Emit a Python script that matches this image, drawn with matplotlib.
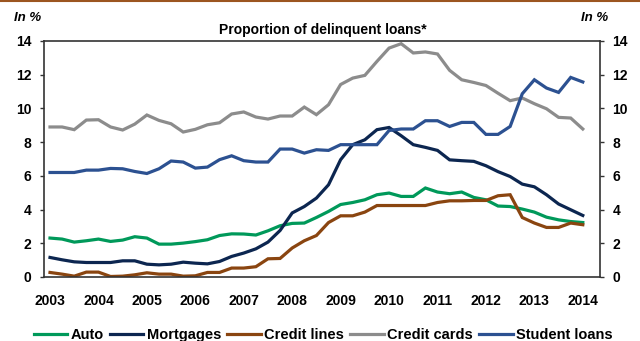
import numpy as np
import matplotlib
matplotlib.use("Agg")
from matplotlib import pyplot as plt
from matplotlib.lines import Line2D

plt.rcParams['font.family'] = ['Liberation Sans', 'DejaVu Sans']

# quarterly observations, 2003Q1 .. 2014Q1
quarters = 2003 + np.arange(45) / 4.0

auto = [2.31, 2.25, 2.07, 2.15, 2.25, 2.11, 2.19, 2.39, 2.31, 1.95,
        1.95, 2.01, 2.10, 2.21, 2.46, 2.56, 2.55, 2.49, 2.74, 3.04,
        3.18, 3.20, 3.53, 3.89, 4.30, 4.42, 4.58, 4.88, 4.98, 4.78,
        4.78, 5.28, 5.04, 4.94, 5.04, 4.72, 4.58, 4.21, 4.18, 4.03,
        3.85, 3.55, 3.39, 3.29, 3.23]
mortgages = [1.16, 1.02, 0.90, 0.86, 0.86, 0.86, 0.96, 0.96, 0.76, 0.72,
             0.76, 0.88, 0.82, 0.78, 0.92, 1.22, 1.42, 1.67, 2.07, 2.76,
             3.80, 4.18, 4.68, 5.47, 6.96, 7.85, 8.14, 8.74, 8.87, 8.38,
             7.85, 7.69, 7.51, 6.95, 6.90, 6.86, 6.60, 6.25, 5.96, 5.51,
             5.35, 4.88, 4.33, 3.99, 3.65]
credit_lines = [0.27, 0.17, 0.05, 0.29, 0.29, 0.03, 0.05, 0.13, 0.25, 0.17,
                0.17, 0.05, 0.07, 0.27, 0.27, 0.53, 0.53, 0.61, 1.08, 1.10,
                1.72, 2.15, 2.46, 3.23, 3.63, 3.63, 3.85, 4.24, 4.24, 4.24,
                4.24, 4.24, 4.42, 4.52, 4.52, 4.54, 4.54, 4.82, 4.88, 3.53,
                3.20, 2.94, 2.94, 3.20, 3.10]
credit_cards = [8.90, 8.90, 8.74, 9.31, 9.33, 8.90, 8.72, 9.07, 9.61, 9.29,
                9.09, 8.60, 8.76, 9.03, 9.15, 9.67, 9.79, 9.49, 9.37, 9.55,
                9.55, 10.08, 9.63, 10.22, 11.42, 11.80, 11.96, 12.79, 13.58, 13.84,
                13.29, 13.35, 13.23, 12.26, 11.70, 11.54, 11.36, 10.90, 10.46, 10.62,
                10.28, 9.98, 9.47, 9.43, 8.78]
student_loans = [6.20, 6.20, 6.20, 6.34, 6.34, 6.44, 6.42, 6.26, 6.14, 6.42,
                 6.88, 6.82, 6.46, 6.52, 6.96, 7.19, 6.90, 6.82, 6.82, 7.59,
                 7.59, 7.35, 7.55, 7.51, 7.85, 7.85, 7.85, 7.85, 8.69, 8.78,
                 8.78, 9.27, 9.27, 8.93, 9.17, 9.17, 8.46, 8.46, 8.93, 10.87,
                 11.70, 11.21, 10.95, 11.84, 11.57]

years = list(range(2003, 2015))
yticks = list(range(0, 15, 2))

series = [
    ("Auto", auto, "#00995A"),
    ("Mortgages", mortgages, "#0C2650"),
    ("Credit lines", credit_lines, "#8A4510"),
    ("Credit cards", credit_cards, "#8C8C8C"),
    ("Student loans", student_loans, "#2C5191"),
]

fig = plt.figure(figsize=(6.4, 3.41), dpi=100)
ax = fig.add_axes([44/640, 1 - 277/341, 556/640, 236/341])

for name, vals, col in series:
    ax.plot(quarters, vals, color=col, lw=2.3, label=name, solid_joinstyle='miter')

ax.set_xlim(2002.876, 2014.355)
ax.set_ylim(0, 14)
ax.set_xticks(years)
ax.set_xticklabels([str(y) for y in years], fontsize=10, fontweight='bold')
ax.set_yticks(yticks)
ax.set_yticklabels([str(v) for v in yticks], fontsize=10, fontweight='bold')
ax.tick_params(axis='x', length=0, pad=12)
ax.tick_params(axis='y', direction='out', length=3, width=1, color='#333333', pad=6,
               right=True, labelright=True)

for sp in ax.spines.values():
    sp.set_color('#333333')
    sp.set_linewidth(1.2)

fig.text(14/640, 1 - 18/341, "In %", fontsize=9.5, fontweight='bold', style='italic',
         va='center', ha='left')
fig.text(608/640, 1 - 18/341, "In %", fontsize=9.5, fontweight='bold', style='italic',
         va='center', ha='right')
fig.text(323/640, 1 - 30/341, "Proportion of delinquent loans*", fontsize=10,
         fontweight='bold', va='center', ha='center')

fig.legend(loc='center', bbox_to_anchor=(0.505, 1 - 335/341), ncol=5, frameon=False,
           prop={'weight': 'bold', 'size': 10.5}, handlelength=2.3, handletextpad=0.25,
           columnspacing=0.4, borderaxespad=0)

# thin rule along the top edge of the page
fig.add_artist(Line2D([0, 1], [0.998, 0.998], transform=fig.transFigure,
                      color='#9C5520', lw=1.5))

fig.savefig("out.png", dpi=100)
